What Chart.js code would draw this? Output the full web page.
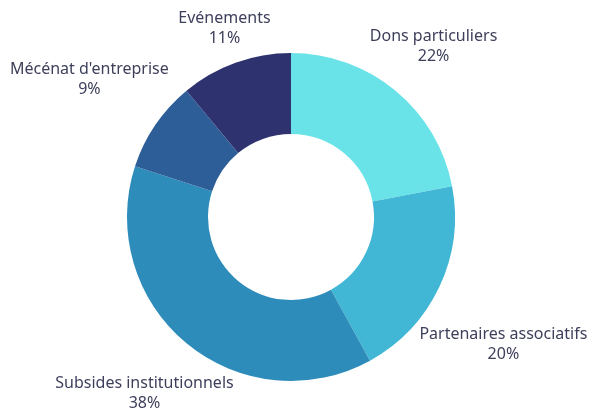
<!DOCTYPE html>
<html>
<head>
<meta charset="utf-8">
<script src="https://cdn.jsdelivr.net/npm/chart.js@4"></script>
<style>
  html, body { margin: 0; padding: 0; background: #fff; }
  #wrap { width: 592px; height: 408px; position: relative; }
</style>
</head>
<body>
<div id="wrap"><canvas id="donut"></canvas></div>
<script>
var categories = ['Dons particuliers', 'Partenaires associatifs', 'Subsides institutionnels', "Mécénat d'entreprise", 'Evénements'];
var shares = [22, 20, 38, 9, 11];
var sliceColors = ['#69e3e8', '#41b7d5', '#2e8cbb', '#2d5e98', '#2e3370'];

// where each label sits, relative to the outer middle point of its slice
var labelShift = [[38, -44], [64, 58], [-42, 50], [-66, -45], [-11, -34]];

var outsideLabels = {
    id: 'outsideLabels',
    afterDatasetsDraw: function (chart) {
        var ctx = chart.ctx;
        var arcs = chart.getDatasetMeta(0).data;
        ctx.save();
        ctx.font = '16px "Noto Sans"';
        ctx.fillStyle = '#3d3f5b';
        ctx.textAlign = 'center';
        ctx.textBaseline = 'middle';
        arcs.forEach(function (arc, i) {
            var p = arc.getProps(['x', 'y', 'startAngle', 'endAngle', 'outerRadius'], true);
            var mid = (p.startAngle + p.endAngle) / 2;
            var x = p.x + Math.cos(mid) * p.outerRadius + labelShift[i][0];
            var y = p.y + Math.sin(mid) * p.outerRadius + labelShift[i][1];
            ctx.fillText(categories[i], x, y - 10);
            ctx.fillText(shares[i] + '%', x, y + 10);
        });
        ctx.restore();
    }
};

var donut = document.getElementById('donut');
var myChart = new Chart(donut, {
    type: 'doughnut',
    data: {
        labels: categories,
        datasets: [{
            data: shares,
            backgroundColor: sliceColors,
            borderWidth: 0
        }]
    },
    options: {
        responsive: true,
        maintainAspectRatio: false,
        animation: false,
        cutout: '50.6%',
        layout: {
            padding: { left: 127, right: 137, top: 53, bottom: 27 }
        },
        plugins: {
            legend: { display: false },
            tooltip: { enabled: false }
        }
    },
    plugins: [outsideLabels]
});
</script>
</body>
</html>
